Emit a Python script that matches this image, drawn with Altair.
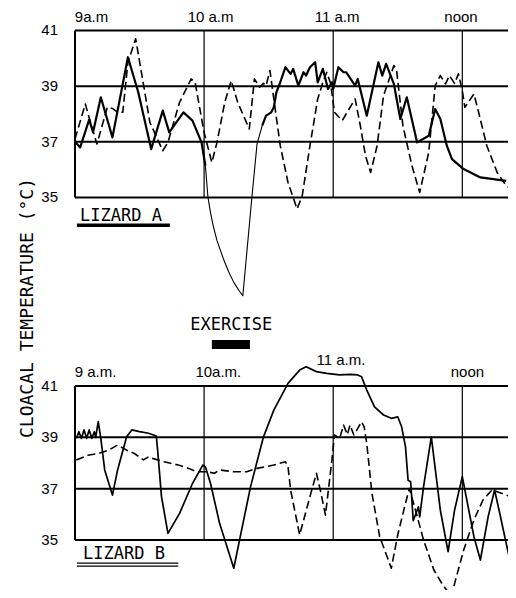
import altair as alt
import pandas as pd

# ---------------- data (hours after midnight, cloacal temperature in deg C) ----------------
top_solid_h = [9.00, 9.04, 9.11, 9.14, 9.20, 9.29, 9.41, 9.49, 9.59, 9.68, 9.73, 9.84, 9.91, 9.98, 10.01, 10.03, 10.05, 10.07, 10.10, 10.15,
               10.19, 10.23, 10.27, 10.30,
               10.37, 10.41, 10.45, 10.48, 10.52, 10.54, 10.56, 10.59, 10.63, 10.67, 10.69, 10.73, 10.77, 10.79, 10.82, 10.86, 10.88, 10.92, 10.96, 10.99,
               11.00, 11.04, 11.08, 11.10, 11.17, 11.19, 11.26, 11.35, 11.38, 11.41, 11.47, 11.52, 11.57, 11.65, 11.74, 11.79, 11.83, 11.88, 11.92, 12.01,
               12.14, 12.34]
top_solid_t = [37.0, 36.8, 37.8, 37.34, 38.6, 37.16, 40.04, 38.78, 36.74, 38.12, 37.34, 38.06, 37.76, 36.98, 36.14, 35.0, 34.45, 33.99, 33.45, 32.79,
               32.33, 31.95, 31.66, 31.47,
               35.0, 36.92, 37.58, 37.94, 38.06, 38.24, 38.78, 39.14, 39.68, 39.44, 39.62, 39.02, 39.5, 39.38, 39.68, 39.86, 39.14, 39.62, 38.9, 39.14,
               38.9, 39.68, 39.5, 39.5, 39.02, 39.26, 37.94, 39.86, 39.38, 39.8, 39.08, 37.82, 38.6, 36.98, 37.22, 38.18, 37.82, 36.86, 36.38, 36.02,
               35.72, 35.6]

top_dash_h = [9.00, 9.08, 9.12, 9.17, 9.25, 9.29, 9.33, 9.37, 9.41, 9.47, 9.51, 9.58, 9.68, 9.72, 9.81, 9.90, 9.93, 10.00, 10.06, 10.10,
              10.16, 10.21, 10.26, 10.35, 10.39, 10.43, 10.46, 10.48, 10.51, 10.54, 10.59, 10.65, 10.72, 10.76, 10.82, 10.88, 10.92, 10.95, 10.98, 11.01,
              11.07, 11.10, 11.17, 11.21, 11.25, 11.29, 11.34, 11.39, 11.47, 11.49, 11.54, 11.61, 11.67, 11.74, 11.79, 11.83, 11.87, 11.90, 11.94, 11.97,
              12.00, 12.02, 12.09, 12.12, 12.19, 12.27, 12.34, 12.41]
top_dash_t = [37.1, 38.36, 37.7, 36.92, 38.24, 38.2, 38.06, 38.06, 39.86, 40.7, 39.62, 37.7, 36.68, 36.98, 38.42, 39.26, 39.14, 37.34, 36.26, 36.98,
              38.42, 39.2, 38.42, 37.46, 39.26, 38.96, 39.1, 39.02, 39.56, 38.54, 36.86, 35.54, 34.59, 35.06, 36.86, 38.54, 39.14, 39.5, 39.1, 38.06,
              37.76, 38.0, 38.54, 37.58, 36.5, 35.9, 36.86, 38.66, 39.74, 39.6, 37.58, 36.14, 35.18, 36.62, 39.02, 39.38, 39.08, 39.38, 39.1, 39.44,
              38.84, 38.24, 38.72, 38.18, 36.86, 35.9, 35.42, 35.24]

bot_solid_h = [9.01, 9.03, 9.05, 9.07, 9.09, 9.11, 9.13, 9.15, 9.16, 9.18, 9.20, 9.23, 9.29, 9.33, 9.40, 9.44, 9.50, 9.57, 9.63, 9.64,
               9.67, 9.72, 9.81, 9.91, 9.99, 10.01, 10.05, 10.12, 10.23, 10.28, 10.36, 10.46, 10.54, 10.65, 10.74, 10.79, 10.87, 10.95, 11.05, 11.13,
               11.19, 11.22, 11.26, 11.32, 11.39, 11.45, 11.50, 11.53, 11.56, 11.58, 11.60, 11.62, 11.66, 11.67, 11.70, 11.76, 11.83, 11.89, 11.94, 12.00,
               12.03, 12.09, 12.14, 12.20, 12.25, 12.29, 12.34, 12.38, 12.42]
bot_solid_t = [38.96, 39.22, 38.96, 39.29, 38.96, 39.29, 38.96, 39.22, 39.0, 39.61, 38.96, 37.73, 36.75, 37.73, 39.02, 39.29, 39.22, 39.16, 39.05, 38.5,
               36.69, 35.26, 36.04, 37.2, 37.92, 37.85, 37.2, 35.65, 33.9, 35.13, 37.08, 39.02, 40.06, 41.1, 41.62, 41.75, 41.56, 41.49, 41.43, 41.45,
               41.43, 41.36, 40.84, 40.19, 39.87, 39.74, 39.8, 39.41, 38.63, 37.33, 37.27, 35.75, 36.29, 35.9, 37.08, 39.02, 36.16, 34.55, 36.16, 37.47,
               36.69, 35.13, 34.22, 35.9, 36.95, 36.04, 34.87, 33.95, 34.6]

bot_dash_h = [9.01, 9.10, 9.18, 9.26, 9.33, 9.40, 9.46, 9.53, 9.57, 9.60, 9.69, 9.80, 9.88, 9.94, 10.02, 10.08, 10.12, 10.23, 10.33, 10.41,
              10.54, 10.63, 10.65, 10.67, 10.74, 10.82, 10.87, 10.90, 10.94, 10.99, 11.01, 11.05, 11.08, 11.11, 11.13, 11.16, 11.19, 11.22, 11.24, 11.26,
              11.30, 11.36, 11.45, 11.50, 11.56, 11.59, 11.63, 11.70, 11.78, 11.85, 11.92, 11.94, 12.01, 12.09, 12.16, 12.23, 12.27, 12.34, 12.42]
bot_dash_t = [38.12, 38.3, 38.37, 38.5, 38.7, 38.5, 38.37, 38.12, 38.24, 38.18, 38.05, 37.92, 37.79, 37.66, 37.66, 37.6, 37.73, 37.66, 37.66, 37.79,
              37.92, 38.05, 37.86, 36.95, 35.2, 36.69, 37.6, 36.95, 35.97, 38.12, 39.09, 38.96, 39.48, 39.1, 39.48, 39.09, 39.35, 39.61, 39.41, 38.76,
              36.82, 35.13, 33.9, 35.2, 36.43, 37.01, 36.3, 35.0, 33.83, 33.24, 32.78, 33.3, 34.6, 35.78, 36.56, 36.95, 36.88, 36.75, 36.62]

temp_ticks = [35, 37, 39, 41]
hour_lines = [10, 11, 12]
top_hour_labels = ["9a.m", "10 a.m", "11 a.m", "noon"]
top_hour_pos = [9.128, 10.05, 11.03, 11.99]
bot_hour_labels = ["9 a.m.", "10a.m.", "11 a.m.", "noon"]
bot_hour_pos = [9.159, 10.11, 11.06, 12.04]
bot_hour_level = [41.55, 41.55, 42.0, 41.55]
exercise_start, exercise_end = 10.06, 10.355
cooling_dip = (10.01, 10.45)   # the thin-pen stretch of lizard A's solid trace

# ---------------- scales ----------------
X_MIN, X_MAX = 9.0, 12.354     # 433 px plot width
X_END = 12.45                  # rules run out to the page edge
xs = alt.Scale(domain=[X_MIN, X_MAX], nice=False, zero=False)
ys_top = alt.Scale(domain=[20.898, 41.808], nice=False, zero=False)
ys_bot = alt.Scale(domain=[33.052, 55.727], nice=False, zero=False)

LABEL_FONT = "Liberation Sans"
LETTER_FONT = "DejaVu Sans Mono"


def X(field):
    return alt.X(field, type="quantitative", scale=xs, axis=None)


def Y(field, ys):
    return alt.Y(field, type="quantitative", scale=ys, axis=None)


def trace(h, t, ys, dashed, width):
    df = pd.DataFrame({"h": h, "t": t})
    kw = dict(color="black", strokeWidth=width, strokeJoin="round")
    if dashed:
        kw["strokeDash"] = [8, 4]
    return alt.Chart(df).mark_line(**kw).encode(x=X("h"), y=Y("t", ys), order="h:Q")


def frame(ys):
    n = len(temp_ticks)
    grid = pd.DataFrame({"x0": [X_MIN] * n, "x1": [X_END] * n, "v": temp_ticks})
    hgrid = alt.Chart(grid).mark_rule(color="black", strokeWidth=2).encode(
        x=X("x0"), x2="x1", y=Y("v", ys))
    vl = pd.DataFrame({"h": hour_lines, "lo": [35] * 3, "hi": [41] * 3})
    vgrid = alt.Chart(vl).mark_rule(color="black", strokeWidth=1.2).encode(
        x=X("h"), y=Y("lo", ys), y2="hi")
    edge = alt.Chart(pd.DataFrame({"h": [X_MIN], "lo": [35], "hi": [41]})).mark_rule(
        color="black", strokeWidth=2).encode(x=X("h"), y=Y("lo", ys), y2="hi")
    tl = pd.DataFrame({"h": [X_MIN] * n, "v": temp_ticks, "lab": [str(v) for v in temp_ticks]})
    ticks = alt.Chart(tl).mark_text(align="right", baseline="middle", dx=-17, fontSize=15,
                                    font=LABEL_FONT, color="black").encode(
        x=X("h"), y=Y("v", ys), text="lab:N")
    return [hgrid, vgrid, edge, ticks]


def texts(hs, ts, labels, ys, **kw):
    df = pd.DataFrame({"h": hs, "t": ts, "lab": labels})
    return alt.Chart(df).mark_text(color="black", baseline="middle", **kw).encode(
        x=X("h"), y=Y("t", ys), text="lab:N")


# split lizard A's solid trace into the heavy and thin pen stretches
a, b = cooling_dip
idx_thin = [i for i, h in enumerate(top_solid_h) if a <= h <= b]
i0, i1 = idx_thin[0], idx_thin[-1]
solid_a_parts = [
    (top_solid_h[:i0 + 1], top_solid_t[:i0 + 1], 2.2),
    (top_solid_h[i0:i1 + 1], top_solid_t[i0:i1 + 1], 1.1),
    (top_solid_h[i1:], top_solid_t[i1:], 2.2),
]

# ---------------- top panel: lizard A ----------------
top_layers = frame(ys_top) + [
    texts(top_hour_pos, [41.47] * 4, top_hour_labels, ys_top, align="center", fontSize=15, font=LABEL_FONT),
    texts([9.039], [34.35], ["LIZARD A"], ys_top, align="left", fontSize=17, font=LETTER_FONT),
    alt.Chart(pd.DataFrame({"a": [9.015], "b": [9.735], "t": [34.0]})).mark_rule(
        color="black", strokeWidth=3.5).encode(x=X("a"), x2="b", y=Y("t", ys_top)),
    texts([8.636], [31.03], ["CLOACAL TEMPERATURE (°C)"], ys_top, align="center", angle=270,
          fontSize=18, font=LETTER_FONT),
    trace(top_dash_h, top_dash_t, ys_top, True, 1.6),
] + [trace(h, t, ys_top, False, w) for h, t, w in solid_a_parts]
top = alt.layer(*top_layers)

# ---------------- bottom panel: lizard B ----------------
bot_layers = frame(ys_bot) + [
    texts(bot_hour_pos, bot_hour_level, bot_hour_labels, ys_bot, align="center", fontSize=15, font=LABEL_FONT),
    texts([10.21], [43.38], ["EXERCISE"], ys_bot, align="center", fontSize=17, font=LETTER_FONT),
    alt.Chart(pd.DataFrame({"a": [exercise_start], "b": [exercise_end], "lo": [42.44], "hi": [42.79]})).mark_rect(
        color="black").encode(x=X("a"), x2="b", y=Y("lo", ys_bot), y2="hi"),
    texts([9.062], [34.45], ["LIZARD B"], ys_bot, align="left", fontSize=17, font=LETTER_FONT),
    alt.Chart(pd.DataFrame({"a": [9.015, 9.015], "b": [9.80, 9.80], "t": [34.10, 33.98]})).mark_rule(
        color="black", strokeWidth=1.2).encode(x=X("a"), x2="b", y=Y("t", ys_bot)),
    trace(bot_dash_h, bot_dash_t, ys_bot, True, 1.6),
    trace(bot_solid_h, bot_solid_t, ys_bot, False, 1.7),
]
bottom = alt.layer(*bot_layers)

chart = alt.layer(top, bottom).resolve_scale(y="independent").properties(
    width=433,
    height=582,
    autosize=alt.AutoSizeParams(type="none"),
    padding={"left": 67, "top": 0, "right": 0, "bottom": 0},
    background="white",
).configure_view(stroke=None)

chart.save("out.html", embed_options={"renderer": "svg", "actions": False})
